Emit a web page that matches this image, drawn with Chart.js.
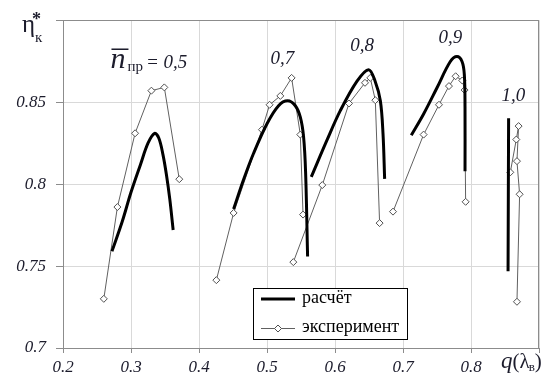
<!DOCTYPE html>
<html><head><meta charset="utf-8">
<script src="https://cdn.jsdelivr.net/npm/chart.js@4/dist/chart.umd.min.js"></script>
<style>html,body{margin:0;padding:0;background:#fff}#wrap{width:547px;height:379px}</style>
</head><body><div id="wrap"><canvas id="c" width="547" height="379"></canvas></div>
<script>
// ---- data ----
const xTicks = [0.2, 0.3, 0.4, 0.5, 0.6, 0.7, 0.8, 0.9];
const xTickLabels = ['0.2', '0.3', '0.4', '0.5', '0.6', '0.7', '0.8', ''];
const yTicks = [0.7, 0.75, 0.8, 0.85, 0.9];
const yTickLabels = ['0.7', '0.75', '0.8', '0.85', ''];

const calc05_q   = [0.272, 0.287, 0.300, 0.314, 0.325, 0.3347, 0.341, 0.347, 0.352, 0.357, 0.362];
const calc05_eta = [0.759, 0.777, 0.795, 0.812, 0.825, 0.831, 0.828, 0.818, 0.806, 0.791, 0.772];
const exp05_q    = [0.260, 0.280, 0.306, 0.330, 0.349, 0.371];
const exp05_eta  = [0.730, 0.786, 0.831, 0.857, 0.859, 0.803];

const calc07_q   = [0.4509, 0.4656, 0.4803, 0.500, 0.517, 0.5303, 0.5416, 0.549, 0.5538, 0.5568, 0.5597];
const calc07_eta = [0.7848, 0.8028, 0.8188, 0.8368, 0.8478, 0.8508, 0.8478, 0.8408, 0.8288, 0.8068, 0.7558];
const exp07_q    = [0.4255, 0.4509, 0.4926, 0.5038, 0.5196, 0.5362, 0.549, 0.553];
const exp07_eta  = [0.7414, 0.7824, 0.8332, 0.8484, 0.8538, 0.8648, 0.8302, 0.7814];

const calc08_q   = [0.5651, 0.5882, 0.6078, 0.6324, 0.6494, 0.659, 0.6667, 0.6706, 0.673];
const calc08_eta = [0.8044, 0.8268, 0.8448, 0.8628, 0.8698, 0.8628, 0.8508, 0.8308, 0.8032];
const exp08_q    = [0.5387, 0.5813, 0.6206, 0.6441, 0.6519, 0.6593, 0.6656];
const exp08_eta  = [0.7524, 0.7994, 0.8492, 0.8618, 0.8648, 0.8512, 0.7762];

const calc09_q   = [0.7122, 0.7303, 0.750, 0.7696, 0.7794, 0.7868, 0.7902, 0.7912, 0.7912];
const calc09_eta = [0.8298, 0.8428, 0.8588, 0.8748, 0.8778, 0.8748, 0.8668, 0.8468, 0.8078];
const exp09_q    = [0.6853, 0.7303, 0.7529, 0.7676, 0.7774, 0.7872, 0.7906, 0.7921];
const exp09_eta  = [0.7832, 0.8302, 0.8484, 0.8598, 0.8658, 0.8632, 0.8574, 0.7892];

const calc10_q   = [0.8553, 0.8545];
const calc10_eta = [0.8402, 0.7468];
const exp10_q    = [0.8676, 0.8715, 0.8676, 0.870, 0.8666, 0.8578];
const exp10_eta  = [0.7282, 0.7938, 0.814, 0.8354, 0.8272, 0.8072];

const speedLabels = ['0,5', '0,7', '0,8', '0,9', '1,0'];
const legendLabels = ['расчёт', 'эксперимент'];

// ---- build ----
const zip = (a, b) => a.map((v, i) => ({x: v, y: b[i]}));
const calcStyle = {showLine: true, borderColor: '#000', borderWidth: 3, pointRadius: 0, tension: 0.35, fill: false, order: 1};
const expStyle = {showLine: true, borderColor: '#606060', borderWidth: 1, pointStyle: 'rectRot', pointRadius: 3.5,
  pointBackgroundColor: '#fff', pointBorderColor: '#505050', pointBorderWidth: 1, tension: 0, fill: false, order: 2};

const datasets = [
  Object.assign({label: legendLabels[1], data: zip(exp05_q, exp05_eta)}, expStyle),
  Object.assign({label: legendLabels[1], data: zip(exp07_q, exp07_eta)}, expStyle),
  Object.assign({label: legendLabels[1], data: zip(exp08_q, exp08_eta)}, expStyle),
  Object.assign({label: legendLabels[1], data: zip(exp09_q, exp09_eta)}, expStyle),
  Object.assign({label: legendLabels[1], data: zip(exp10_q, exp10_eta)}, expStyle),
  Object.assign({label: legendLabels[0], data: zip(calc05_q, calc05_eta)}, calcStyle),
  Object.assign({label: legendLabels[0], data: zip(calc07_q, calc07_eta)}, calcStyle),
  Object.assign({label: legendLabels[0], data: zip(calc08_q, calc08_eta)}, calcStyle),
  Object.assign({label: legendLabels[0], data: zip(calc09_q, calc09_eta)}, calcStyle),
  Object.assign({label: legendLabels[0], data: zip(calc10_q, calc10_eta)}, calcStyle)
];

const SERIF = '"Liberation Serif", "Times New Roman", "DejaVu Serif", serif';
const TXT = '#1c1c2c';

const decor = {
  id: 'decor',
  afterDraw(chart) {
    const ctx = chart.ctx, a = chart.chartArea, xs = chart.scales.x, ys = chart.scales.y;
    ctx.save();
    // frame
    ctx.strokeStyle = '#8c8c8c'; ctx.lineWidth = 1;
    ctx.strokeRect(Math.round(a.left) + 0.5, Math.round(a.top) + 0.5, Math.round(a.right - a.left) - 1, Math.round(a.bottom - a.top));

    // speed annotations
    ctx.fillStyle = TXT;
    ctx.textBaseline = 'alphabetic';
    const nx = xs.getPixelForValue(0.2698), ny = ys.getPixelForValue(0.871);
    ctx.font = 'italic 30px ' + SERIF; ctx.textAlign = 'left';
    ctx.fillText('n', nx, ny);
    const nw = ctx.measureText('n').width;
    ctx.strokeStyle = TXT; ctx.lineWidth = 1.5;
    ctx.beginPath(); ctx.moveTo(nx + 1, ny - 18.5); ctx.lineTo(nx + nw + 3, ny - 18.5); ctx.stroke();
    ctx.font = '15px ' + SERIF;
    ctx.fillText('пр', nx + nw + 2, ny + 3);
    const pw = ctx.measureText('пр').width;
    ctx.font = 'italic 19px ' + SERIF;
    ctx.fillText('= ' + speedLabels[0], nx + nw + pw + 5, ny);

    ctx.textAlign = 'center'; ctx.textBaseline = 'middle';
    ctx.font = 'italic 19px ' + SERIF;
    ctx.fillText(speedLabels[1], xs.getPixelForValue(0.5225), ys.getPixelForValue(0.8764));
    ctx.fillText(speedLabels[2], xs.getPixelForValue(0.640), ys.getPixelForValue(0.8842));
    ctx.fillText(speedLabels[3], xs.getPixelForValue(0.7696), ys.getPixelForValue(0.889));
    ctx.fillText(speedLabels[4], xs.getPixelForValue(0.8622), ys.getPixelForValue(0.8536));

    // y-axis title: eta*_k
    ctx.textAlign = 'left'; ctx.textBaseline = 'alphabetic';
    ctx.font = '25px ' + SERIF;
    ctx.fillText('η', 22, 32);
    ctx.font = 'bold 18px ' + SERIF;
    ctx.fillText('*', 32, 25);
    ctx.font = '15px ' + SERIF;
    ctx.fillText('к', 35, 42);

    // x-axis title: q(lambda_v)
    const tx = 501, ty = 368;
    ctx.font = 'italic 23px ' + SERIF;
    ctx.fillText('q', tx, ty);
    let cx = tx + ctx.measureText('q').width;
    ctx.font = '21px ' + SERIF;
    ctx.fillText('(λ', cx, ty);
    cx += ctx.measureText('(λ').width;
    ctx.font = '13px ' + SERIF;
    ctx.fillText('в', cx - 1, ty + 3);
    cx += ctx.measureText('в').width - 1;
    ctx.font = '21px ' + SERIF;
    ctx.fillText(')', cx, ty);

    // legend
    const L = 253, T = 288, R = 408, B = 340;
    ctx.fillStyle = '#fff'; ctx.fillRect(L, T, R - L, B - T);
    ctx.strokeStyle = '#000'; ctx.lineWidth = 1;
    ctx.strokeRect(L + 0.5, T + 0.5, R - L - 1, B - T - 1);
    ctx.strokeStyle = '#000'; ctx.lineWidth = 3;
    ctx.beginPath(); ctx.moveTo(261, 299); ctx.lineTo(295, 299); ctx.stroke();
    ctx.strokeStyle = '#606060'; ctx.lineWidth = 1;
    ctx.beginPath(); ctx.moveTo(261, 328.5); ctx.lineTo(295, 328.5); ctx.stroke();
    ctx.fillStyle = '#fff'; ctx.strokeStyle = '#505050';
    ctx.beginPath(); ctx.moveTo(278 - 3.5, 328.5); ctx.lineTo(278, 325); ctx.lineTo(281.5, 328.5); ctx.lineTo(278, 332); ctx.closePath();
    ctx.fill(); ctx.stroke();
    ctx.fillStyle = '#000'; ctx.font = '18px ' + SERIF; ctx.textBaseline = 'middle';
    ctx.fillText(legendLabels[0], 302, 298);
    ctx.fillText(legendLabels[1], 302, 327);
    ctx.restore();
  }
};

new Chart(document.getElementById('c'), {
  type: 'scatter',
  data: {datasets},
  options: {
    responsive: false, animation: false, devicePixelRatio: 1,
    layout: {padding: {left: 0, top: 16, right: 8, bottom: 0}},
    plugins: {legend: {display: false}, tooltip: {enabled: false}},
    scales: {
      x: {
        type: 'linear', min: 0.2, max: 0.9,
        afterBuildTicks: s => { s.ticks = xTicks.map(v => ({value: v})); },
        afterFit: s => { s.height = 31; },
        ticks: {callback: (v, i) => xTickLabels[i], font: {family: SERIF, style: 'italic', size: 17}, color: TXT, padding: 4, maxRotation: 0, autoSkip: false},
        grid: {color: '#d9d9d9', tickColor: '#8c8c8c', tickLength: 5},
        border: {color: '#8c8c8c'}
      },
      y: {
        type: 'linear', min: 0.7, max: 0.9,
        afterBuildTicks: s => { s.ticks = yTicks.map(v => ({value: v})); },
        afterFit: s => { s.width = 63; },
        ticks: {callback: (v, i) => yTickLabels[i], font: {family: SERIF, style: 'italic', size: 17}, color: TXT, padding: 10, autoSkip: false},
        grid: {color: '#d9d9d9', tickColor: '#8c8c8c', tickLength: 7},
        border: {color: '#8c8c8c'}
      }
    }
  },
  plugins: [decor]
});
</script></body></html>
